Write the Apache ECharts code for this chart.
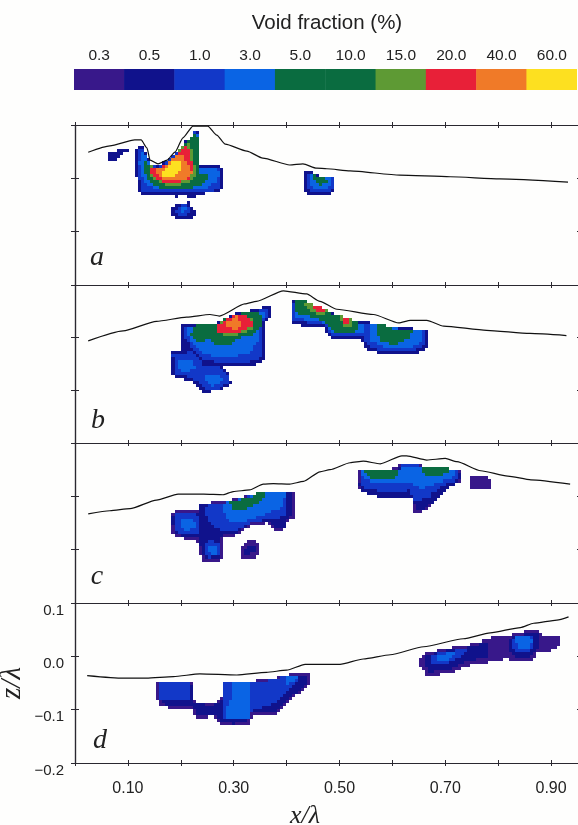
<!DOCTYPE html>
<html><head><meta charset="utf-8">
<style>html,body{margin:0;padding:0;background:#fefefd}#c{width:578px;height:825px}canvas{filter:blur(0.4px)}</style>
<script src="https://cdn.jsdelivr.net/npm/echarts@6/dist/echarts.min.js"></script>
</head><body><div id="c"></div>
<script>
// Legend
const voidLabels=['0.3','0.5','1.0','3.0','5.0','10.0','15.0','20.0','40.0','60.0'];
const voidColors=['#38188a','#10128c','#1238c8','#0a64e4','#0a6c40','#0a6c40','#5e9a34','#e82038','#f07a28','#fde020'];
const xTicks=[0.1,0.3,0.5,0.7,0.9];
const panelLetters=['a','b','c','d'];
// Free surface z/λ against x/λ (flat x,z pairs)
const surfaceA=[.025,.049,.066,.061,.113,.072,.125,.072,.136,.057,.142,.034,.157,.027,.174,.034,.189,.049,.204,.076,.223,.098,.251,.098,.268,.081,.284,.064,.325,.051,.355,.038,.406,.025,.431,.027,.457,.019,.476,.018,.520,.014,.614,.006,.709,.003,.803,-.001,.932,-.007];
const surfaceB=[.025,-.006,.091,.013,.154,.031,.211,.039,.255,.044,.273,.041,.321,.064,.343,.069,.394,.089,.438,.083,.463,.069,.495,.054,.564,.044,.612,.028,.634,.033,.665,.033,.697,.022,.778,.014,.860,.008,.929,.004];
const surfaceC=[.025,-.033,.066,-.027,.104,-.023,.154,-.007,.195,.004,.243,.004,.28,.003,.299,.009,.33,.012,.356,.023,.375,.024,.406,.023,.432,.028,.463,.046,.482,.05,.52,.063,.545,.066,.577,.061,.618,.076,.627,.076,.665,.068,.7,.071,.722,.065,.767,.048,.818,.038,.862,.031,.936,.023];
const surfaceD=[.023,-.036,.091,-.041,.135,-.041,.186,-.038,.236,-.033,.306,-.035,.362,-.03,.4,-.026,.435,-.015,.501,-.015,.545,-.005,.596,.003,.659,.018,.734,.033,.785,.044,.842,.054,.867,.062,.911,.068,.933,.074];
// Void-fraction contours: [level index, flat x,z outline]
const contoursA=[
[1,[.062,.045,.076,.051,.101,.054,.101,.049,.085,.044,.082,.033,.066,.033,.062,.039]],
[1,[.120,.058,.128,.058,.137,.041,.143,.028,.158,.025,.173,.031,.189,.047,.205,.066,.221,.081,.225,.091,.231,.089,.236,.056,.236,.025,.274,.025,.278,.016,.278,-.016,.274,-.026,.249,-.028,.227,-.030,.227,-.034,.211,-.034,.208,-.030,.195,-.030,.195,-.034,.186,-.034,.183,-.030,.126,-.030,.120,-.022,.118,-.003,.113,.013,.113,.047]],
[2,[.123,.056,.128,.056,.137,.038,.143,.025,.158,.022,.173,.028,.189,.044,.205,.063,.221,.078,.225,.088,.231,.084,.233,.022,.271,.022,.274,.013,.274,-.013,.268,-.022,.236,-.025,.129,-.025,.124,-.016,.122,0,.118,.013,.118,.044]],
[3,[.126,.05,.130,.05,.139,.031,.143,.024,.158,.021,.173,.027,.189,.043,.205,.061,.221,.076,.226,.086,.231,.081,.232,.022,.268,.02,.272,.009,.268,-.006,.243,-.02,.154,-.021,.134,-.009,.126,.009,.122,.031]],
[4,[.137,.031,.143,.024,.158,.021,.173,.027,.189,.043,.205,.061,.219,.075,.226,.086,.232,.078,.232,.025,.234,.009,.249,.006,.255,.003,.243,-.009,.211,-.02,.161,-.018,.139,-.003,.130,.016,.132,.031]],
[6,[.142,.024,.158,.021,.173,.027,.189,.043,.205,.061,.217,.064,.224,.031,.230,.013,.221,-.003,.192,-.014,.167,-.011,.148,0,.14,.013]],
[7,[.143,.023,.158,.02,.173,.026,.189,.043,.202,.056,.213,.061,.219,.031,.225,.013,.214,0,.192,-.009,.170,-.008,.151,.003,.142,.013]],
[8,[.161,.019,.175,.025,.189,.041,.202,.041,.21,.031,.221,.013,.208,0,.189,-.006,.173,-.003,.158,.006,.148,.016]],
[9,[.166,.015,.175,.022,.189,.032,.198,.03,.201,.016,.19,.007,.176,.003,.168,.006]],
[1,[.181,-.059,.189,-.051,.202,-.047,.214,-.045,.214,-.053,.229,-.059,.229,-.068,.221,-.074,.189,-.075,.181,-.068]],
[2,[.189,-.059,.208,-.047,.22,-.059,.211,-.069,.192,-.068]],
[3,[.195,-.059,.21,-.05,.212,-.056,.202,-.066]],
[1,[.433,.014,.444,.014,.454,.008,.469,.003,.493,.005,.493,-.024,.485,-.03,.441,-.03,.433,-.022]],
[2,[.437,.011,.445,.011,.454,.006,.469,.001,.488,.003,.488,-.02,.482,-.024,.444,-.024,.437,-.016]],
[3,[.443,.009,.454,.005,.469,.001,.485,.001,.485,-.009,.476,-.018,.454,-.02,.444,-.009]],
[4,[.447,.009,.457,.005,.473,0,.479,0,.474,-.009,.463,-.014,.454,-.006]]
];
const contoursB=[
[1,[.198,.022,.208,.026,.265,.026,.280,.036,.306,.047,.321,.05,.350,.054,.364,.062,.370,.062,.370,.036,.357,.028,.357,-.044,.337,-.052,.280,-.054,.293,-.072,.294,-.088,.274,-.1,.243,-.104,.227,-.091,.224,-.084,.189,-.075,.181,-.072,.181,-.025,.202,-.022,.197,.016]],
[2,[.205,.022,.265,.023,.28,.033,.306,.044,.321,.048,.35,.052,.365,.057,.365,.039,.353,.031,.353,-.037,.331,-.046,.268,-.046,.243,-.041,.224,-.025,.208,0]],
[2,[.185,-.029,.22,-.028,.243,-.052,.274,-.056,.29,-.073,.29,-.084,.271,-.097,.246,-.1,.23,-.084,.217,-.075,.186,-.069]],
[3,[.193,-.041,.221,-.041,.227,-.056,.208,-.066,.195,-.059]],
[3,[.246,-.069,.274,-.069,.28,-.081,.261,-.092,.246,-.084]],
[3,[.21,.019,.265,.022,.28,.031,.306,.043,.321,.047,.35,.05,.361,.05,.361,.041,.348,.031,.347,-.003,.331,-.031,.287,-.037,.249,-.033,.227,-.019,.214,0]],
[4,[.221,.016,.233,.025,.265,.025,.28,.034,.306,.044,.321,.049,.347,.047,.354,.034,.353,.022,.337,.006,.312,0,.287,-.016,.268,-.014,.252,-.003,.230,-.009,.217,.003]],
[6,[.265,.022,.28,.033,.306,.045,.321,.044,.338,.031,.337,.019,.318,.008,.287,.003,.268,.009]],
[7,[.267,.022,.284,.033,.306,.046,.321,.042,.334,.031,.334,.021,.315,.011,.287,.006,.268,.011]],
[8,[.284,.028,.306,.042,.312,.028,.309,.016,.287,.019]],
[1,[.408,.071,.432,.071,.463,.056,.495,.044,.523,.031,.558,.031,.567,.025,.639,.017,.668,.017,.668,-.016,.646,-.031,.58,-.033,.551,-.022,.542,-.002,.488,-.002,.469,.019,.457,.022,.444,.019,.410,.028]],
[2,[.411,.068,.432,.068,.463,.053,.495,.041,.523,.029,.558,.028,.567,.022,.639,.014,.663,.014,.663,-.013,.642,-.023,.58,-.027,.554,-.016,.545,.002,.488,.002,.472,.023,.413,.033]],
[3,[.414,.066,.432,.066,.463,.052,.495,.039,.523,.028,.545,.028,.545,.006,.491,.006,.472,.028,.416,.038]],
[3,[.558,.025,.639,.013,.658,.013,.657,-.006,.636,-.019,.583,-.019,.561,-.006]],
[4,[.416,.071,.432,.071,.463,.054,.495,.042,.520,.031,.538,.029,.534,.013,.514,.006,.488,.011,.469,.033,.432,.044,.418,.047]],
[4,[.57,.025,.586,.025,.602,.014,.641,.016,.63,-.003,.605,-.013,.58,-.009,.569,.006]],
[6,[.435,.069,.45,.064,.477,.052,.475,.044,.457,.044,.437,.056]],
[6,[.502,.041,.523,.036,.523,.022,.507,.022]],
[7,[.45,.061,.463,.061,.474,.052,.472,.047,.459,.049,.45,.054]],
[7,[.508,.037,.519,.036,.519,.025,.509,.025]]
];
const contoursC=[
[0,[.231,-.012,.246,-.012,.29,-.008,.35,.009,.416,.011,.416,-.041,.403,-.044,.4,-.062,.375,-.064,.362,-.051,.334,-.054,.306,-.073,.28,-.079,.28,-.11,.274,-.123,.243,-.123,.236,-.11,.23,-.082,.208,-.081,.186,-.074,.181,-.057,.181,-.035,.189,-.027,.231,-.027]],
[1,[.235,-.016,.29,-.012,.35,.005,.412,.007,.412,-.038,.399,-.041,.396,-.058,.377,-.06,.364,-.047,.333,-.05,.305,-.069,.276,-.075,.276,-.108,.27,-.119,.247,-.119,.24,-.108,.233,-.078,.209,-.077,.19,-.07,.185,-.056,.185,-.037,.192,-.031,.235,-.031]],
[2,[.249,-.014,.29,-.011,.35,.007,.4,.009,.4,-.038,.362,-.044,.334,-.048,.306,-.063,.28,-.066,.255,-.054,.246,-.029]],
[2,[.189,-.033,.23,-.033,.236,-.057,.23,-.072,.208,-.072,.189,-.066]],
[2,[.249,-.082,.274,-.088,.273,-.113,.249,-.114,.243,-.101]],
[3,[.28,-.013,.35,.006,.397,.007,.395,-.019,.35,-.037,.306,-.051,.284,-.044]],
[3,[.198,-.044,.224,-.044,.227,-.06,.205,-.066]],
[3,[.252,-.094,.268,-.094,.268,-.11,.252,-.107]],
[4,[.29,-.01,.33,-.002,.35,.009,.361,.006,.356,-.006,.337,-.016,.315,-.029,.299,-.023]],
[0,[.312,-.096,.324,-.085,.34,-.085,.348,-.094,.348,-.11,.337,-.116,.318,-.116,.31,-.107]],
[1,[.318,-.098,.34,-.094,.34,-.107,.321,-.11]],
[0,[.537,.049,.611,.052,.614,.061,.652,.061,.658,.052,.725,.051,.731,.043,.731,.028,.703,.015,.687,-.004,.668,-.022,.652,-.032,.639,-.029,.636,.002,.586,.002,.557,.006,.539,.013,.534,.024]],
[1,[.541,.045,.609,.048,.612,.057,.654,.057,.66,.048,.723,.047,.727,.041,.727,.03,.7,.012,.684,-.006,.665,-.019,.652,-.028,.643,-.025,.64,-.002,.586,-.002,.558,.002,.542,.01,.538,.024]],
[2,[.54,.048,.613,.051,.616,.058,.651,.058,.658,.051,.722,.048,.725,.032,.696,.021,.677,.009,.671,-.001,.644,-.01,.63,.012,.589,.009,.551,.015,.54,.024]],
[3,[.542,.046,.611,.049,.616,.056,.649,.056,.656,.048,.716,.046,.719,.037,.684,.024,.656,.015,.636,.024,.602,.024,.557,.028,.542,.037]],
[4,[.547,.048,.611,.049,.608,.036,.589,.029,.564,.031,.551,.04]],
[4,[.652,.054,.709,.053,.708,.043,.684,.037,.661,.04]],
[0,[.747,.04,.763,.04,.764,.036,.789,.034,.789,.015,.753,.013,.747,.019]]
];
const contoursD=[
[0,[.156,-.051,.224,-.051,.224,-.085,.261,-.088,.28,-.076,.282,-.046,.331,-.046,.362,-.044,.4,-.035,.425,-.03,.445,-.03,.445,-.051,.425,-.069,.4,-.088,.381,-.109,.337,-.11,.328,-.126,.299,-.13,.274,-.126,.261,-.113,.23,-.115,.217,-.098,.192,-.099,.161,-.094,.156,-.082]],
[1,[.16,-.053,.22,-.053,.22,-.089,.262,-.092,.284,-.08,.286,-.05,.331,-.05,.362,-.048,.4,-.039,.441,-.034,.441,-.05,.422,-.066,.397,-.085,.378,-.105,.334,-.106,.325,-.122,.299,-.126,.276,-.122,.263,-.109,.232,-.111,.22,-.094,.192,-.095,.163,-.09]],
[2,[.161,-.051,.214,-.051,.214,-.082,.161,-.082]],
[2,[.282,-.048,.331,-.048,.362,-.046,.4,-.036,.422,-.035,.419,-.051,.394,-.073,.369,-.094,.334,-.101,.328,-.118,.28,-.119,.277,-.085]],
[3,[.299,-.049,.329,-.049,.329,-.118,.287,-.118,.287,-.098,.299,-.073]],
[3,[.4,-.037,.422,-.035,.413,-.049,.397,-.054]],
[0,[.647,-.004,.662,.007,.684,.012,.715,.018,.743,.021,.762,.027,.784,.034,.813,.037,.854,.047,.876,.047,.885,.04,.917,.04,.92,.021,.904,.012,.876,.009,.866,-.007,.835,-.01,.819,-.004,.791,-.01,.747,-.016,.709,-.032,.665,-.036,.649,-.016]],
[1,[.657,-.001,.684,.009,.743,.018,.778,.027,.784,-.001,.746,-.007,.702,-.026,.667,-.029]],
[1,[.822,.034,.86,.043,.876,.041,.879,.021,.87,.009,.86,-.004,.835,-.004,.822,.012]],
[2,[.671,-.001,.684,.006,.74,.015,.734,.003,.702,-.013,.677,-.015]],
[2,[.828,.034,.854,.04,.869,.034,.869,.021,.854,.006,.838,.006,.828,.018]],
[3,[.684,.002,.712,.009,.719,.003,.696,-.01,.684,-.007]],
[3,[.832,.034,.854,.039,.865,.028,.857,.012,.841,.015]]
];

const surfaces=[surfaceA,surfaceB,surfaceC,surfaceD];
const contours=[contoursA,contoursB,contoursC,contoursD];
const gridTops=[125,285,443,603], gridHeights=[160,158,160,160];
const GL=75,GW=506,XMAX=GW/529;
const DX=0.0057,DZ=0.0057;
function inside(p,x,z){let c=false;for(let i=0,j=p.length-2;i<p.length;j=i,i+=2){const xi=p[i],zi=p[i+1],xj=p[j],zj=p[j+1];if((zi>z)!==(zj>z)&&x<(xj-xi)*(z-zi)/(zj-zi)+xi)c=!c;}return c;}
function cells(list){const out=[];const nx=Math.floor(XMAX/DX),nz=Math.floor(.3/DZ);
 for(let i=0;i<nx;i++)for(let j=0;j<nz;j++){const x=(i+.5)*DX,z=.1-(j+.5)*DZ;let lv=-1;
  for(const [l,p] of list){if(inside(p,x,z)&&l>=lv)lv=l;}
  if(lv>=0)out.push([x,z,lv]);}
 return out;}
function pairs(f){const o=[];for(let i=0;i<f.length;i+=2)o.push([f[i],f[i+1]]);return o;}
const AXC='#2a2830';
const grid=[],xAxis=[],yAxis=[],series=[];
gridTops.forEach((t,i)=>{
 grid.push({left:GL,top:t,width:GW,height:gridHeights[i],outerBoundsMode:'none'});
 const base={type:'value',gridIndex:i,min:0,max:XMAX,interval:.1,splitLine:{show:false},axisLine:{show:true,onZero:false,lineStyle:{color:AXC,width:1.2}},axisTick:{show:true,inside:true,length:3,lineStyle:{color:AXC}},axisLabel:{show:false}};
 const bi=xAxis.length;
 xAxis.push({...base,position:'bottom',axisLabel:i==3?{show:true,margin:18,fontSize:16,color:'#222',fontFamily:'Liberation Sans',showMaxLabel:false,formatter:v=>xTicks.some(k=>Math.abs(k-v)<1e-6)?v.toFixed(2):''}:{show:false}});
 xAxis.push({...base,position:'top'});
 if(i==0)xAxis.push({...base,position:'top',axisTick:{show:true,inside:false,length:3,lineStyle:{color:AXC}}});
 if(i==3)xAxis.push({...base,position:'bottom',axisTick:{show:true,inside:false,length:3,lineStyle:{color:AXC}}});
 const yb={type:'value',gridIndex:i,min:-.2,max:.1,interval:.1,splitLine:{show:false},axisLine:{show:true,onZero:false,lineStyle:{color:AXC,width:1.2}},axisTick:{show:true,inside:true,length:4,lineStyle:{color:AXC}},axisLabel:{show:false}};
 const yi=yAxis.length;
 yAxis.push({...yb,position:'left'});
 yAxis.push({...yb,position:'left',axisTick:{show:true,inside:false,length:4,lineStyle:{color:AXC}},
   ...(i==3?{name:'z/λ',nameLocation:'middle',nameGap:48,nameRotate:90,nameMoveOverlap:false,nameTextStyle:{fontFamily:'Liberation Serif',fontStyle:'italic',fontSize:29,color:'#222'},
   axisLabel:{show:true,margin:11,fontSize:15,color:'#222',fontFamily:'Liberation Sans',verticalAlign:'top',formatter:v=>{const r=Math.round(v*10)/10;return r<0?'−'+Math.abs(r).toFixed(1):r.toFixed(1);}}}:{})});
 yAxis.push({...yb,position:'right'});
 const d=cells(contours[i]);
 series.push({type:'custom',xAxisIndex:bi,yAxisIndex:yi,silent:true,clip:true,animation:false,progressive:0,data:d,encode:{x:0,y:1},
  renderItem:(p,api)=>{const x=api.value(0),z=api.value(1);const a=api.coord([x-DX/2,z+DZ/2]),b=api.coord([x+DX/2,z-DZ/2]);const x0=Math.round(a[0]),y0=Math.round(a[1]);
   return {type:'rect',shape:{x:x0,y:y0,width:Math.round(b[0])-x0,height:Math.round(b[1])-y0},style:{fill:voidColors[api.value(2)]}};}});
 series.push({type:'line',xAxisIndex:bi,yAxisIndex:yi,data:pairs(surfaces[i]),showSymbol:false,symbol:'none',silent:true,animation:false,z:5,smooth:0.2,smoothMonotone:'x',lineStyle:{color:'#111',width:1.2}});
});
// Colour key
const kg=grid.length;
grid.push({left:74,top:69,width:503,height:21,outerBoundsMode:'none'});
const kx=xAxis.length;
xAxis.push({type:'category',gridIndex:kg,position:'top',data:voidLabels,axisLine:{show:false},axisTick:{show:false},axisLabel:{interval:0,margin:5,fontSize:15.5,color:'#222',fontFamily:'Liberation Sans'}});
const ky=yAxis.length;
yAxis.push({type:'value',gridIndex:kg,min:0,max:1,show:false});
series.push({type:'bar',xAxisIndex:kx,yAxisIndex:ky,barWidth:'101%',silent:true,animation:false,data:voidColors.map(c=>({value:1,itemStyle:{color:c}}))});
const txt=(s,x,y,size,fam,it)=>({type:'text',x,y,silent:true,style:{text:s,fontSize:size,fontFamily:fam,fontStyle:it?'italic':'normal',fill:'#222',textAlign:'center',textVerticalAlign:'middle'}});
const letterPos=[[97,258],[98,421],[97,577],[100,741]];
const chart=echarts.init(document.getElementById('c'),null,{renderer:'canvas'});
chart.setOption({animation:false,backgroundColor:'#fefefd',grid,xAxis,yAxis,series,
 graphic:[txt('Void fraction (%)',327,23,20.5,'Liberation Sans',false),txt('x/λ',305,816,26,'Liberation Serif',true),...panelLetters.map((l,i)=>txt(l,letterPos[i][0],letterPos[i][1],28,'Liberation Serif',true))]});
</script></body></html>
